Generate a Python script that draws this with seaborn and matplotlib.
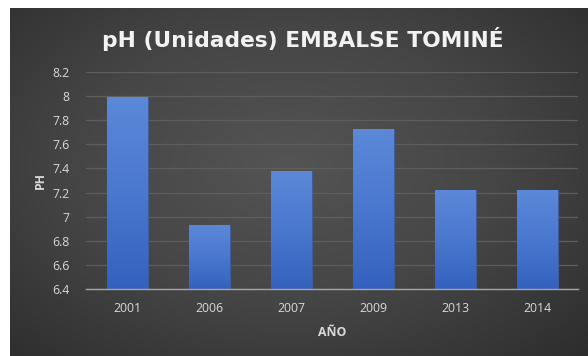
import numpy as np
import pandas as pd
import matplotlib
matplotlib.use("Agg")
import matplotlib.pyplot as plt
import seaborn as sns
from matplotlib.colors import LinearSegmentedColormap

years = ["2001", "2006", "2007", "2009", "2013", "2014"]
ph_values = [7.99, 6.93, 7.375, 7.725, 7.225, 7.225]
y_ticks = [6.4, 6.6, 6.8, 7.0, 7.2, 7.4, 7.6, 7.8, 8.0, 8.2]
y_tick_labels = ["6.4", "6.6", "6.8", "7", "7.2", "7.4", "7.6", "7.8", "8", "8.2"]
title = "pH (Unidades) EMBALSE TOMINÉ"
x_label = "AÑO"
y_label = "PH"

df = pd.DataFrame({"year": years, "ph": ph_values})

sns.set_theme(style="dark")
plt.rcParams["font.family"] = ["Open Sans", "DejaVu Sans"]

W, H = 588, 356
fig = plt.figure(figsize=(W / 100, H / 100), dpi=100)
fig.patch.set_facecolor("white")

# background panel with radial gradient
bg = fig.add_axes([10 / W, 0, 1 - 10 / W, (H - 8) / H], zorder=-5)
yy, xx = np.mgrid[0:1:200j, 0:1:300j]
r = np.sqrt(((xx - 0.48) / 0.75) ** 2 + ((yy - 0.45) / 0.8) ** 2)
r = np.clip(r, 0, 1)
bg_cmap = LinearSegmentedColormap.from_list("bg", ["#545454", "#454545", "#2c2c2c"])
bg.imshow(r, cmap=bg_cmap, aspect="auto", extent=[0, 1, 0, 1], vmin=0, vmax=1)
bg.set_axis_off()

ax = fig.add_axes([86 / W, (H - 289) / H, (578 - 86) / W, (289 - 72) / H])
ax.patch.set_alpha(0)

sns.barplot(data=df, x="year", y="ph", color="#4472c4", width=0.5, ax=ax,
            saturation=1, zorder=3)

ax.set_ylim(6.4, 8.2)
ax.set_yticks(y_ticks)
ax.set_yticklabels(y_tick_labels)

# gradient fill for bars
bar_cmap = LinearSegmentedColormap.from_list("bar", ["#3461bd", "#4a78cf", "#5c88d8"])
grad = np.linspace(0, 1, 100).reshape(-1, 1)
for p in list(ax.patches):
    x0 = p.get_x()
    x1 = x0 + p.get_width()
    top = p.get_y() + p.get_height()
    p.set_edgecolor("#3a5fa8")
    p.set_linewidth(0.6)
    im = ax.imshow(grad, cmap=bar_cmap, origin="lower", aspect="auto",
                   extent=[x0, x1, 6.4, top], zorder=3.5)
    im.set_clip_path(p)
ax.set_xlim(-0.5, len(years) - 0.5)
ax.set_ylim(6.4, 8.2)

ax.grid(axis="y", color="#5e5e5e", linewidth=0.9, zorder=0)
ax.grid(axis="x", visible=False)
for s in ["left", "right", "top"]:
    ax.spines[s].set_visible(False)
ax.spines["bottom"].set_color("#a6a6a6")
ax.spines["bottom"].set_linewidth(1.0)
ax.spines["bottom"].set_zorder(5)

ax.tick_params(axis="both", length=0, colors="#d9d9d9", labelsize=8.8)
ax.tick_params(axis="y", pad=12)
ax.tick_params(axis="x", pad=9)

ax.set_xlabel(x_label, color="#d9d9d9", fontsize=8.8, fontweight="bold", labelpad=8)
ax.set_ylabel(y_label, color="#d9d9d9", fontsize=8.8, fontweight="bold", labelpad=4)

fig.text(303 / W, (H - 46.7) / H, title, ha="center", va="baseline", color="#f2f2f2",
         fontsize=15.7, fontweight="bold", family=["DejaVu Sans"])

fig.savefig("out.png", dpi=100, facecolor="white")
